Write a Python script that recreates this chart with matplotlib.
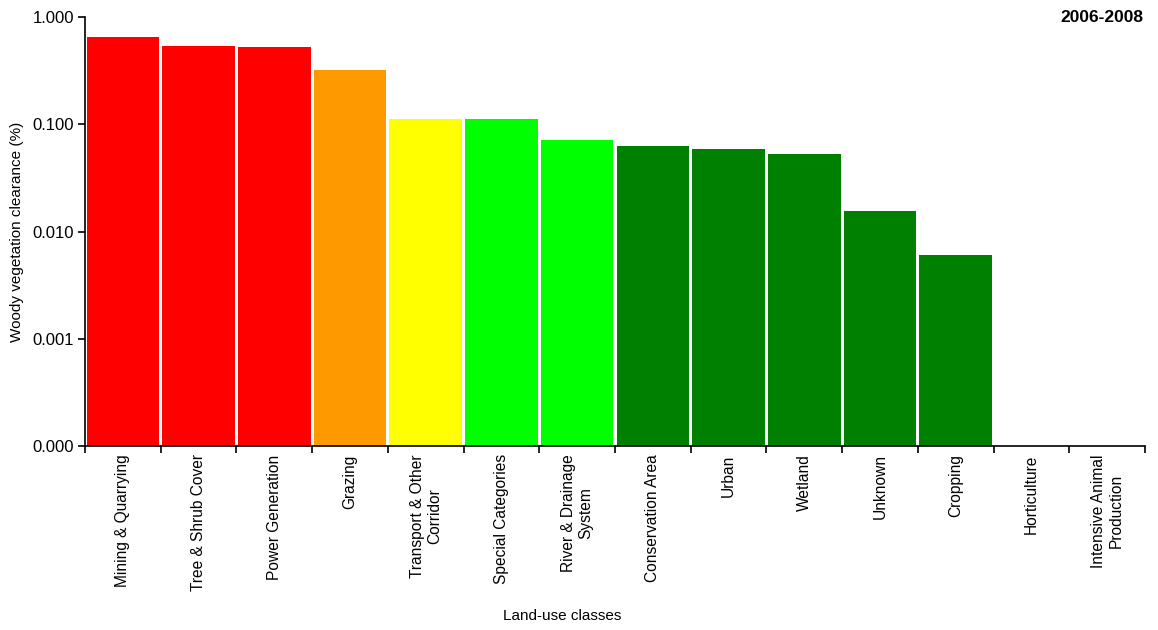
import numpy as np
import matplotlib
matplotlib.use("Agg")
import matplotlib.pyplot as plt
from matplotlib.ticker import FuncFormatter, FixedLocator

plt.rcParams['font.family'] = ['Liberation Sans', 'DejaVu Sans']

# land-use classes and clearance (%)
categories = ['Mining & Quarrying', 'Tree & Shrub Cover', 'Power Generation',
              'Grazing', 'Transport & Other\nCorridor', 'Special Categories',
              'River & Drainage\nSystem', 'Conservation Area', 'Urban', 'Wetland',
              'Unknown', 'Cropping', 'Horticulture',
              'Intensive Animal\nProduction']
values = [0.651, 0.537, 0.525, 0.321, 0.112, 0.112, 0.0714, 0.0628, 0.0589,
          0.0529, 0.0156, 0.00605, 0.0, 0.0]
colors = ['#FF0000', '#FF0000', '#FF0000', '#FF9900', '#FFFF00', '#00FF00',
          '#00FF00', '#008000', '#008000', '#008000', '#008000', '#008000',
          '#008000', '#008000']
yticks = [0.0001, 0.001, 0.01, 0.1, 1.0]
period = '2006-2008'

ymin = 0.0001

fig = plt.figure(figsize=(11.58, 6.3), dpi=100)
ax = fig.add_axes([85/1158, 1 - 446/630, 1060/1158, 429/630])

x = np.arange(len(categories))
heights = [v - ymin if v > ymin else 0 for v in values]
ax.bar(x + 0.5, heights, bottom=ymin, width=0.96, color=colors, linewidth=0)

ax.set_yscale('log')
ax.set_ylim(ymin, 1.0)
ax.set_xlim(0, len(categories))
ax.yaxis.set_major_locator(FixedLocator(yticks))
ax.yaxis.set_minor_locator(FixedLocator([]))
ax.yaxis.set_major_formatter(FuncFormatter(lambda v, p: '%.3f' % v))

# boundary ticks between bars, labels at bar centres
ax.set_xticks(np.arange(len(categories) + 1))
ax.set_xticklabels([])
ax.set_xticks(x + 0.5, minor=True)
ax.set_xticklabels(categories, minor=True, rotation=90, ha='center',
                   va='top', fontsize=11.2, multialignment='center')
ax.tick_params(axis='x', which='minor', length=0, pad=6)
ax.tick_params(axis='x', which='major', direction='out', length=5, width=1.2)
ax.tick_params(axis='y', direction='out', length=5, width=1.2, labelsize=12,
               pad=3)

for s in ['top', 'right']:
    ax.spines[s].set_visible(False)
for s in ['left', 'bottom']:
    ax.spines[s].set_linewidth(1.2)

ax.set_ylabel('Woody vegetation clearance (%)', fontsize=11, labelpad=6)
fig.text(562/1158, 1 - 616/630, 'Land-use classes', ha='center', va='center',
         fontsize=11)
fig.text(1143/1158, 1 - 17/630, period, ha='right', va='center',
         fontsize=12.5, fontweight='bold')

fig.savefig('out.png', dpi=100)
